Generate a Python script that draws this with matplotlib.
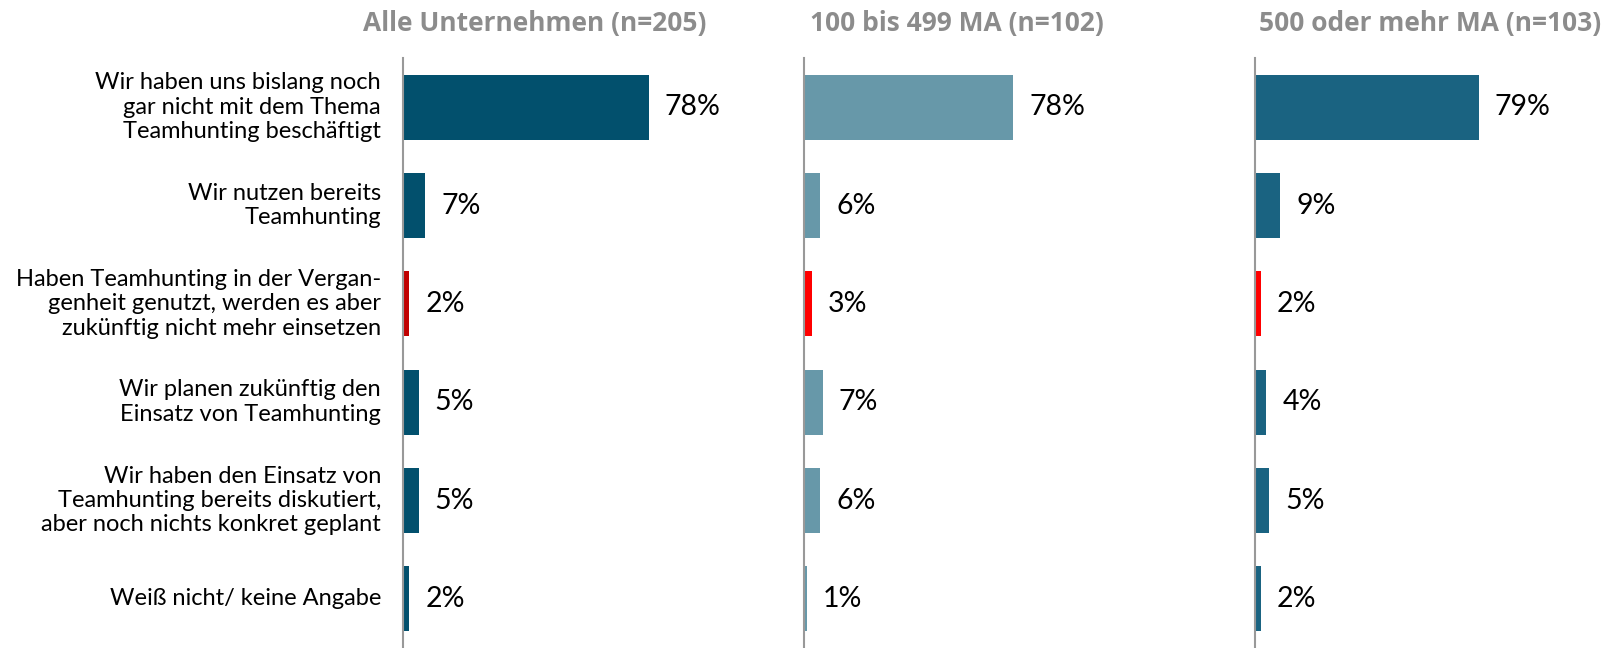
import matplotlib
matplotlib.use("Agg")
import matplotlib.pyplot as plt

# Umfrage: Teamhunting nach Unternehmensgröße
categories = [
    "Wir haben uns bislang noch\ngar nicht mit dem Thema\nTeamhunting beschäftigt",
    "Wir nutzen bereits\nTeamhunting",
    "Haben Teamhunting in der Vergan-\ngenheit genutzt, werden es aber\nzukünftig nicht mehr einsetzen",
    "Wir planen zukünftig den\nEinsatz von Teamhunting",
    "Wir haben den Einsatz von\nTeamhunting bereits diskutiert,\naber noch nichts konkret geplant",
    "Weiß nicht/ keine Angabe",
]
panel_titles = ["Alle Unternehmen (n=205)", "100 bis 499 MA (n=102)", "500 oder mehr MA (n=103)"]
values_all = [78, 7, 2, 5, 5, 2]
values_mid = [78, 6, 3, 7, 6, 1]
values_big = [79, 9, 2, 4, 5, 2]

base_colors = ["#02506D", "#6798A9", "#1A6381"]
red_colors = ["#C00000", "#FF0000", "#FF0000"]
red_row = 2

W, H = 1613, 648
fig = plt.figure(figsize=(W / 100, H / 100), dpi=100)
plt.rcParams['font.family'] = ['Lato', 'DejaVu Sans']

# left edge px, px per percent, title centre px
panels = [(403, 3.15, 535), (804, 2.68, 957), (1255, 2.83, 1430)]
series = [values_all, values_mid, values_big]
top, bottom = 58, 648
ax_w = 300

for i, (vals, (left, ppp, tx)) in enumerate(zip(series, panels)):
    ax = fig.add_axes([left / W, 0, ax_w / W, (bottom - top) / H])
    cols = [red_colors[i] if k == red_row else base_colors[i] for k in range(len(vals))]
    ax.barh(range(len(vals)), vals, height=0.66, color=cols)
    ax.set_xlim(0, ax_w / ppp)
    ax.set_ylim(5.5, -0.5)
    for k, v in enumerate(vals):
        ax.annotate(f"{v}%", (v, k), xytext=(11.5, 0), textcoords="offset points",
                    va="center", ha="left", fontsize=20.5, color="black")
    for s in ["top", "right", "bottom"]:
        ax.spines[s].set_visible(False)
    ax.spines["left"].set_color("#999999")
    ax.spines["left"].set_linewidth(1.5)
    ax.set_xticks([])
    ax.set_yticks([])
    ax.patch.set_alpha(0)
    fig.text(tx / W, 1 - 23 / H, panel_titles[i], ha="center", va="center",
             fontsize=19, fontweight="bold", color="#8C8C8C",
             family=["Open Sans", "DejaVu Sans"])
    if i == 0:
        for k, c in enumerate(categories):
            ax.text(-22 / ppp, k, c, ha="right", va="center", fontsize=17,
                    linespacing=1.2, color="black")

fig.savefig("out.png", dpi=100)
